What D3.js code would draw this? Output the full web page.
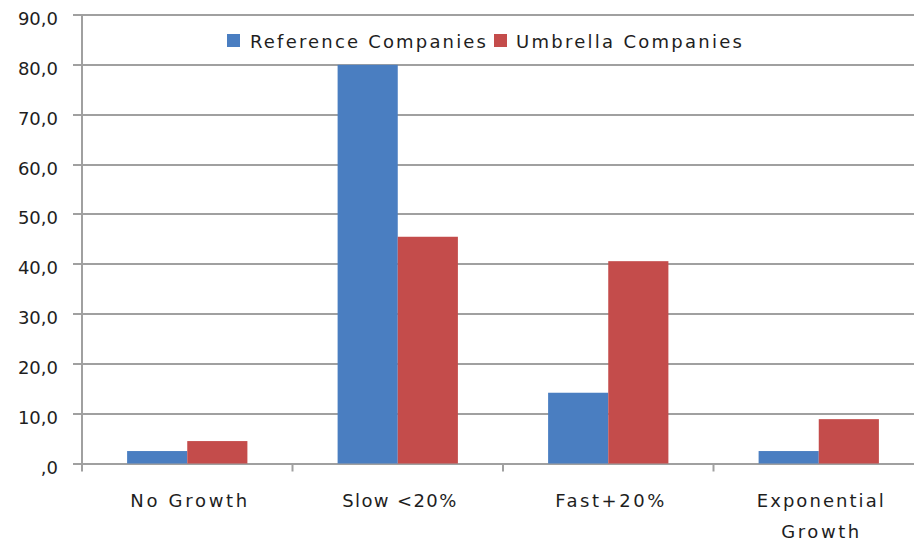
<!DOCTYPE html>
<html>
<head>
<meta charset="utf-8">
<script src="https://cdn.jsdelivr.net/npm/d3@7/dist/d3.min.js"></script>
<style>
  html, body { margin: 0; padding: 0; background: #fff; }
  svg { display: block; }
  text { font-family: "DejaVu Sans", Verdana, sans-serif; fill: #1e1e1e; }
</style>
</head>
<body>
<svg id="chart" width="914" height="542"></svg>
<script>
// Growth categories and the share of companies (%) in each
const categories = ["No Growth", "Slow <20%", "Fast+20%", "Exponential Growth"];
const categoryLines = [["No Growth"], ["Slow <20%"], ["Fast+20%"], ["Exponential", "Growth"]];
const seriesNames = ["Reference Companies", "Umbrella Companies"];
const referenceValues = [2.5, 80.0, 14.2, 2.5];
const umbrellaValues = [4.5, 45.5, 40.6, 8.9];
const yTicks = [0, 10, 20, 30, 40, 50, 60, 70, 80, 90];
const yTickLabels = [",0", "10,0", "20,0", "30,0", "40,0", "50,0", "60,0", "70,0", "80,0", "90,0"];

// Set widths for the spaced-out label lettering
const categoryLineWidths = [[117], [114], [109], [127, 78]];

const colors = ["#4a7ec1", "#c44c4b"];
const seriesValues = [referenceValues, umbrellaValues];

const svg = d3.select("#chart");
const plotLeft = 82, plotRight = 924, plotTop = 15, plotBottom = 463.5;

const x0 = d3.scaleBand().domain(categories).range([plotLeft, plotRight]).paddingInner(0).paddingOuter(0);
const x1 = d3.scaleBand().domain(seriesNames).range([0, x0.bandwidth()]).paddingInner(0).paddingOuter(0.75);
const y = d3.scaleLinear().domain([0, 90]).range([plotBottom, plotTop]);

// Horizontal gridlines (with short ticks left of the axis)
svg.append("g")
  .selectAll("line")
  .data(yTicks)
  .join("line")
  .attr("x1", plotLeft - 9)
  .attr("x2", 914)
  .attr("y1", d => Math.round(y(d)))
  .attr("y2", d => Math.round(y(d)))
  .attr("stroke", "#a0a0a0")
  .attr("stroke-width", 2);

// Y axis labels
svg.append("g")
  .selectAll("text")
  .data(yTicks)
  .join("text")
  .attr("x", 58)
  .attr("y", d => Math.round(y(d)) + 10)
  .attr("text-anchor", "end")
  .attr("font-size", 18)
  .text((d, i) => yTickLabels[i]);

// Bars
const groups = svg.append("g")
  .selectAll("g")
  .data(categories)
  .join("g")
  .attr("transform", d => `translate(${x0(d)},0)`);

groups.selectAll("rect")
  .data((c, ci) => seriesNames.map((s, si) => ({ s, si, v: seriesValues[si][ci] })))
  .join("rect")
  .attr("x", d => x1(d.s))
  .attr("width", x1.bandwidth())
  .attr("y", d => y(d.v))
  .attr("height", d => y(0) - y(d.v))
  .attr("fill", d => colors[d.si]);

// Axis lines and category tick marks
svg.append("line")
  .attr("x1", plotLeft).attr("x2", plotLeft)
  .attr("y1", plotTop).attr("y2", plotBottom + 8)
  .attr("stroke", "#a0a0a0").attr("stroke-width", 2);

svg.append("g")
  .selectAll("line")
  .data(categories.slice(1))
  .join("line")
  .attr("x1", d => x0(d)).attr("x2", d => x0(d))
  .attr("y1", plotBottom).attr("y2", plotBottom + 8)
  .attr("stroke", "#a0a0a0").attr("stroke-width", 2);

// Category labels, one text per line
svg.append("g")
  .selectAll("g")
  .data(categories)
  .join("g")
  .each(function (d, i) {
    const cx = x0(d) + x0.bandwidth() / 2 + 1.5;
    d3.select(this).selectAll("text")
      .data(categoryLines[i])
      .join("text")
      .attr("x", (t, j) => cx - categoryLineWidths[i][j] / 2)
      .attr("y", (t, j) => 507 + j * 31)
      .attr("font-size", 18)
      .attr("textLength", (t, j) => categoryLineWidths[i][j])
      .attr("lengthAdjust", "spacing")
      .text(t => t);
  });

// Legend
const legendItems = [
  { name: seriesNames[0], color: colors[0], sx: 227, tx: 250, w: 236 },
  { name: seriesNames[1], color: colors[1], sx: 494, tx: 516, w: 226 }
];
const legend = svg.append("g");
legend.selectAll("rect")
  .data(legendItems)
  .join("rect")
  .attr("x", d => d.sx).attr("y", 34)
  .attr("width", 13).attr("height", 13)
  .attr("fill", d => d.color);
legend.selectAll("text")
  .data(legendItems)
  .join("text")
  .attr("x", d => d.tx).attr("y", 48)
  .attr("font-size", 18)
  .attr("textLength", d => d.w)
  .attr("lengthAdjust", "spacing")
  .text(d => d.name);
</script>
</body>
</html>
